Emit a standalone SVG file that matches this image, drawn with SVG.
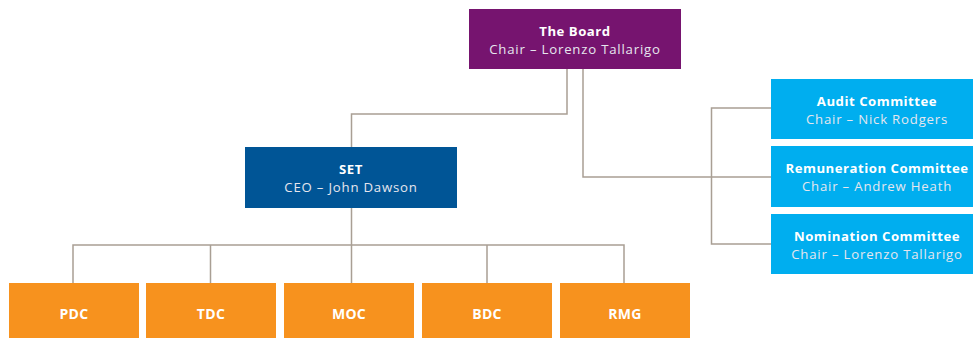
<svg xmlns="http://www.w3.org/2000/svg" width="973" height="338" viewBox="0 0 973 338">
  <style>
    text { font-family: "Open Sans", "Liberation Sans", sans-serif; fill: #ffffff; text-anchor: middle; }
    .t { font-size: 13.2px; font-weight: 700; letter-spacing: 0.5px; }
    .s { font-size: 13.2px; font-weight: 400; letter-spacing: 0.8px; fill: #e6e6ee; }
    .u { font-size: 14px; font-weight: 700; letter-spacing: 0.3px; }
    .board { fill: #76146f; }
    .set { fill: #005596; }
    .cmt { fill: #00aeef; }
    .unit { fill: #f7921e; }
    .wire { fill: none; stroke: #a99f94; stroke-width: 1.5; }
  </style>

  <!-- connectors -->
  <g id="connectors">
    <path class="wire" d="M567,69 V114 H351.5 V147"/>
    <path class="wire" d="M583,69 V177 H711.5"/>
    <path class="wire" d="M771,108 H711.5 V244 H771 M711.5,177 H771"/>
    <path class="wire" d="M351.5,208 V283 M73,283 V245 H624 V283 M210.5,245 V283 M487,245 V283"/>
  </g>

  <g id="board">
    <rect class="board" x="469" y="9" width="212" height="60"/>
    <text class="t" x="575" y="35.5">The Board</text>
    <text class="s" x="575" y="53.5">Chair – Lorenzo Tallarigo</text>
  </g>

  <g id="set">
    <rect class="set" x="245" y="147" width="212" height="61"/>
    <text class="t" x="351" y="173.5">SET</text>
    <text class="s" x="351" y="191.5">CEO – John Dawson</text>
  </g>

  <g id="audit">
    <rect class="cmt" x="771" y="79" width="202" height="60"/>
    <text class="t" x="877" y="105.5">Audit Committee</text>
    <text class="s" x="877" y="123.5">Chair – Nick Rodgers</text>
  </g>

  <g id="remuneration">
    <rect class="cmt" x="771" y="146" width="202" height="61"/>
    <text class="t" x="877" y="172.5">Remuneration Committee</text>
    <text class="s" x="877" y="190.5">Chair – Andrew Heath</text>
  </g>

  <g id="nomination">
    <rect class="cmt" x="771" y="214" width="202" height="60"/>
    <text class="t" x="877" y="240.5">Nomination Committee</text>
    <text class="s" x="877" y="258.5">Chair – Lorenzo Tallarigo</text>
  </g>

  <g id="pdc">
    <rect class="unit" x="9" y="283" width="130" height="55"/>
    <text class="u" x="74" y="319">PDC</text>
  </g>
  <g id="tdc">
    <rect class="unit" x="146" y="283" width="130" height="55"/>
    <text class="u" x="211" y="319">TDC</text>
  </g>
  <g id="moc">
    <rect class="unit" x="284" y="283" width="130" height="55"/>
    <text class="u" x="349" y="319">MOC</text>
  </g>
  <g id="bdc">
    <rect class="unit" x="422" y="283" width="130" height="55"/>
    <text class="u" x="487" y="319">BDC</text>
  </g>
  <g id="rmg">
    <rect class="unit" x="560" y="283" width="130" height="55"/>
    <text class="u" x="625" y="319">RMG</text>
  </g>
</svg>
